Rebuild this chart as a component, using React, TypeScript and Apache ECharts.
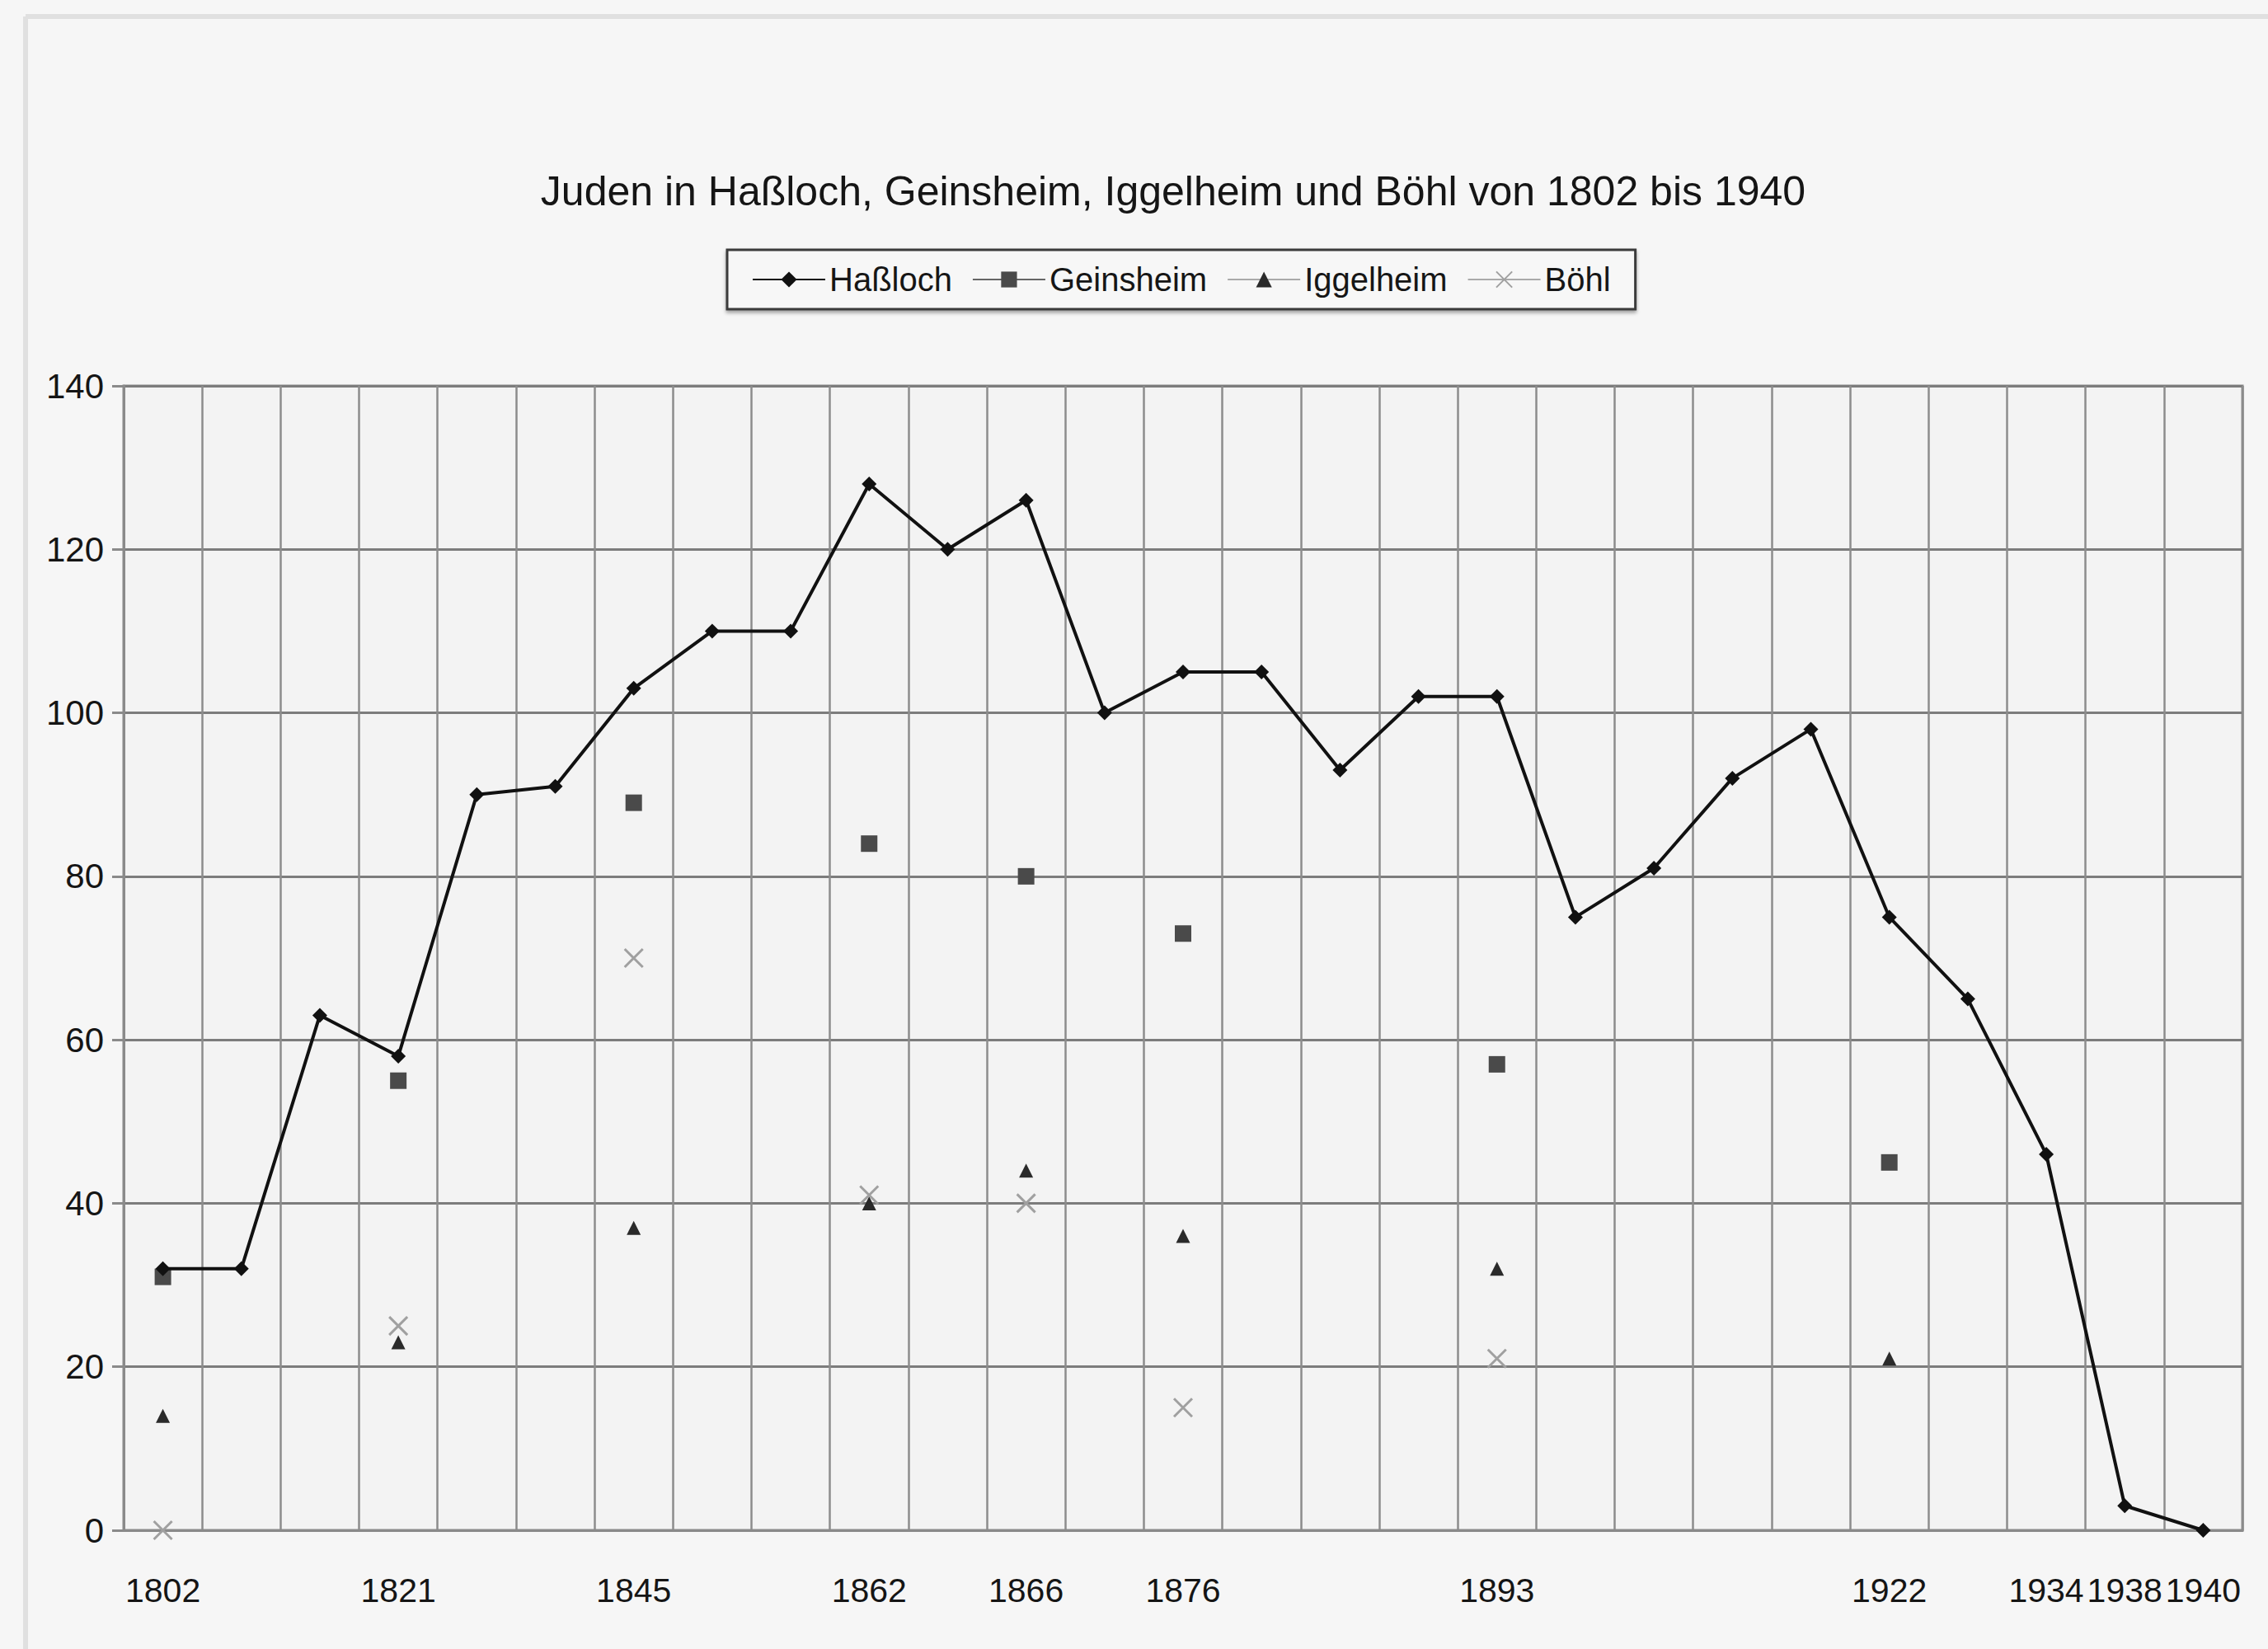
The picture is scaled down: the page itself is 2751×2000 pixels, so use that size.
import React, { useEffect, useRef } from "react";
import * as echarts from "echarts";

// Category slots (only some carry a year label in the original)
const years = [
  "1802", "", "", "1821", "", "", "1845", "", "", "1862", "", "1866", "", "1876",
  "", "", "", "1893", "", "", "", "", "1922", "", "1934", "1938", "1940",
];

const hassloch = [32, 32, 63, 58, 90, 91, 103, 110, 110, 128, 120, 126, 100, 105, 105, 93, 102, 102, 75, 81, 92, 98, 75, 65, 46, 3, 0];
const geinsheim = [31, null, null, 55, null, null, 89, null, null, 84, null, 80, null, 73, null, null, null, 57, null, null, null, null, 45, null, null, null, null];
const iggelheim = [14, null, null, 23, null, null, 37, null, null, 40, null, 44, null, 36, null, null, null, 32, null, null, null, null, 21, null, null, null, null];
const boehl = [0, null, null, 25, null, null, 70, null, null, 41, null, 40, null, 15, null, null, null, 21, null, null, null, null, null, null, null, null, null];

const seriesNames = ["Haßloch", "Geinsheim", "Iggelheim", "Böhl"];
const yTicks = { min: 0, max: 140, interval: 20 };
const titleText = "Juden in Haßloch, Geinsheim, Iggelheim und Böhl von 1802 bis 1940";

const FONT = "'Liberation Sans', Arial, Helvetica, sans-serif";
const CROSS = "path://M0,0L10,10M10,0L0,10";

export default function App() {
  const ref = useRef<HTMLDivElement>(null);
  useEffect(() => {
    document.body.style.margin = "0";
    document.body.style.background = "#f6f6f6";
    if (!ref.current) return;
    const chart = echarts.init(ref.current, undefined, { renderer: "svg" });
    chart.setOption({
      animation: false,
      backgroundColor: "#f6f6f6",
      textStyle: { fontFamily: FONT },
      title: {
        text: titleText,
        left: 1423,
        top: 207,
        padding: 0,
        textAlign: "center",
        textStyle: { fontFamily: FONT, fontSize: 50, fontWeight: "normal", color: "#151515" },
      },
      legend: {
        data: seriesNames,
        left: 882,
        top: 303,
        width: 1100,
        padding: [16, 30, 16, 30],
        itemGap: 24,
        itemWidth: 88,
        itemHeight: 24,
        borderColor: "#3a3a3a",
        borderWidth: 3,
        backgroundColor: "#f7f7f7",
        shadowColor: "rgba(0,0,0,0.35)",
        shadowBlur: 4,
        shadowOffsetY: 3,
        textStyle: { fontFamily: FONT, fontSize: 40, color: "#161616", padding: [0, 0, 0, 0] },
      },
      graphic: [
        { type: "line", shape: { x1: 31, y1: 20, x2: 31, y2: 2000 }, style: { stroke: "#e0e0e0", lineWidth: 6 } },
        { type: "line", shape: { x1: 31, y1: 20, x2: 2751, y2: 20 }, style: { stroke: "#e0e0e0", lineWidth: 6 } },
      ],
      grid: {
        left: 150,
        right: 31,
        top: 468,
        bottom: 144,
        show: true,
        backgroundColor: "#f3f3f3",
        borderColor: "#8a8a8a",
        borderWidth: 3,
      },
      xAxis: {
        type: "category",
        data: years,
        boundaryGap: true,
        axisLine: { show: true, lineStyle: { color: "#8a8a8a", width: 3 } },
        axisTick: { show: false },
        axisLabel: { interval: 0, margin: 52, fontFamily: FONT, fontSize: 41, color: "#151515" },
        splitLine: { show: true, interval: 0, lineStyle: { color: "#8c8c8c", width: 2.5 } },
      },
      yAxis: {
        type: "value",
        min: yTicks.min,
        max: yTicks.max,
        interval: yTicks.interval,
        axisLine: { show: true, lineStyle: { color: "#8a8a8a", width: 3 } },
        axisTick: { show: true, length: 14, lineStyle: { color: "#8a8a8a", width: 3 } },
        axisLabel: { margin: 24, fontFamily: FONT, fontSize: 42, color: "#151515" },
        splitLine: { show: true, lineStyle: { color: "#7c7c7c", width: 3 } },
      },
      series: [
        {
          name: seriesNames[0],
          type: "line",
          data: hassloch,
          symbol: "diamond",
          symbolSize: 18,
          itemStyle: { color: "#111111" },
          lineStyle: { color: "#111111", width: 4 },
          z: 5,
        },
        {
          name: seriesNames[1],
          type: "line",
          data: geinsheim,
          symbol: "rect",
          symbolSize: 20,
          itemStyle: { color: "#4a4a4a" },
          lineStyle: { color: "#666666", width: 3 },
          connectNulls: false,
        },
        {
          name: seriesNames[2],
          type: "line",
          data: iggelheim,
          symbol: "triangle",
          symbolSize: 17,
          itemStyle: { color: "#2a2a2a" },
          lineStyle: { color: "#aaaaaa", width: 3 },
          connectNulls: false,
        },
        {
          name: seriesNames[3],
          type: "line",
          data: boehl,
          symbol: CROSS,
          symbolSize: 22,
          itemStyle: { color: "transparent", borderColor: "#a0a0a0", borderWidth: 3 },
          lineStyle: { color: "#aaaaaa", width: 3 },
          connectNulls: false,
        },
      ],
    });
    return () => chart.dispose();
  }, []);
  return <div ref={ref} style={{ width: 2751, height: 2000 }} />;
}
